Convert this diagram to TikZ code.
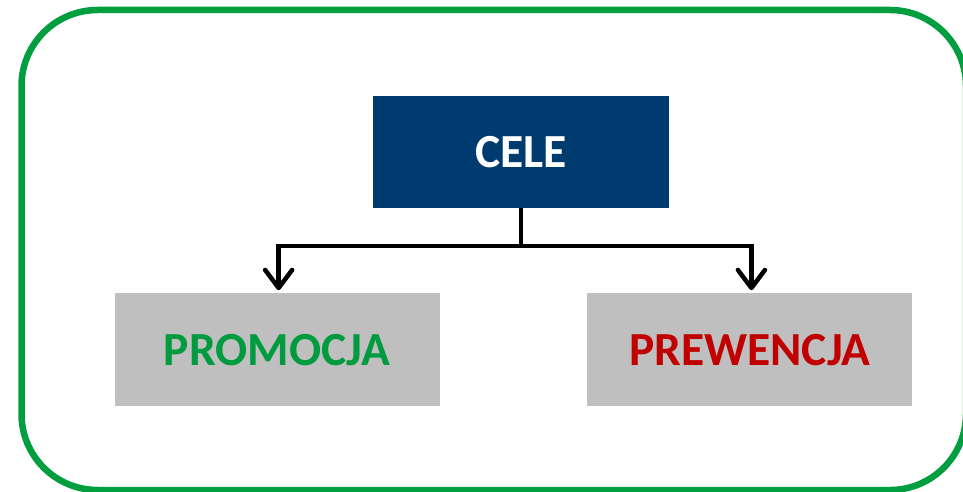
\documentclass[tikz,border=0pt]{standalone}
\usepackage{fontspec}
\setmainfont{Carlito}
\usetikzlibrary{positioning,calc,arrows.meta}
\definecolor{framegreen}{RGB}{0,158,62}
\definecolor{celeblue}{RGB}{0,59,111}
\definecolor{boxgray}{RGB}{191,191,191}
\definecolor{promogreen}{RGB}{0,155,62}
\definecolor{prewred}{RGB}{192,0,0}

\begin{document}
\begin{tikzpicture}[
    x=1pt,y=1pt,
    >={Straight Barb[length=18pt,width=27pt,line width=4.5pt,line cap=round,line join=round]},
    goal/.style={rectangle,minimum width=296pt,minimum height=112pt,fill=celeblue,
      text=white,font=\fontsize{47.5}{52}\selectfont\bfseries,inner sep=0pt},
    area/.style={rectangle,minimum width=325pt,minimum height=113pt,fill=boxgray,
      font=\fontsize{47.5}{52}\selectfont\bfseries,inner sep=0pt},
    conn/.style={line width=4.5pt,black}]
    \useasboundingbox (0,0) rectangle (963,-492);
    \draw[framegreen,line width=6.5pt,rounded corners=76pt] (21.5,-10) rectangle (966,-490);

    \node[goal] (cele) at (521,-152) {CELE};
    \node[area,text=promogreen] (promocja) [below left=85pt and -67pt of cele] {PROMOCJA};
    \node[area,text=prewred] (prewencja) [below right=85pt and -82pt of cele] {PREWENCJA};

    \coordinate (split) at ($(cele.south)+(0,-38pt)$);
    \draw[conn] (cele.south) -- (split);
    \draw[conn,->,shorten >=3pt] (split) -| ($(promocja.north)+(1.5pt,0)$);
    \draw[conn,->,shorten >=3pt] (split) -| ($(prewencja.north)+(1.5pt,0)$);
\end{tikzpicture}
\end{document}
